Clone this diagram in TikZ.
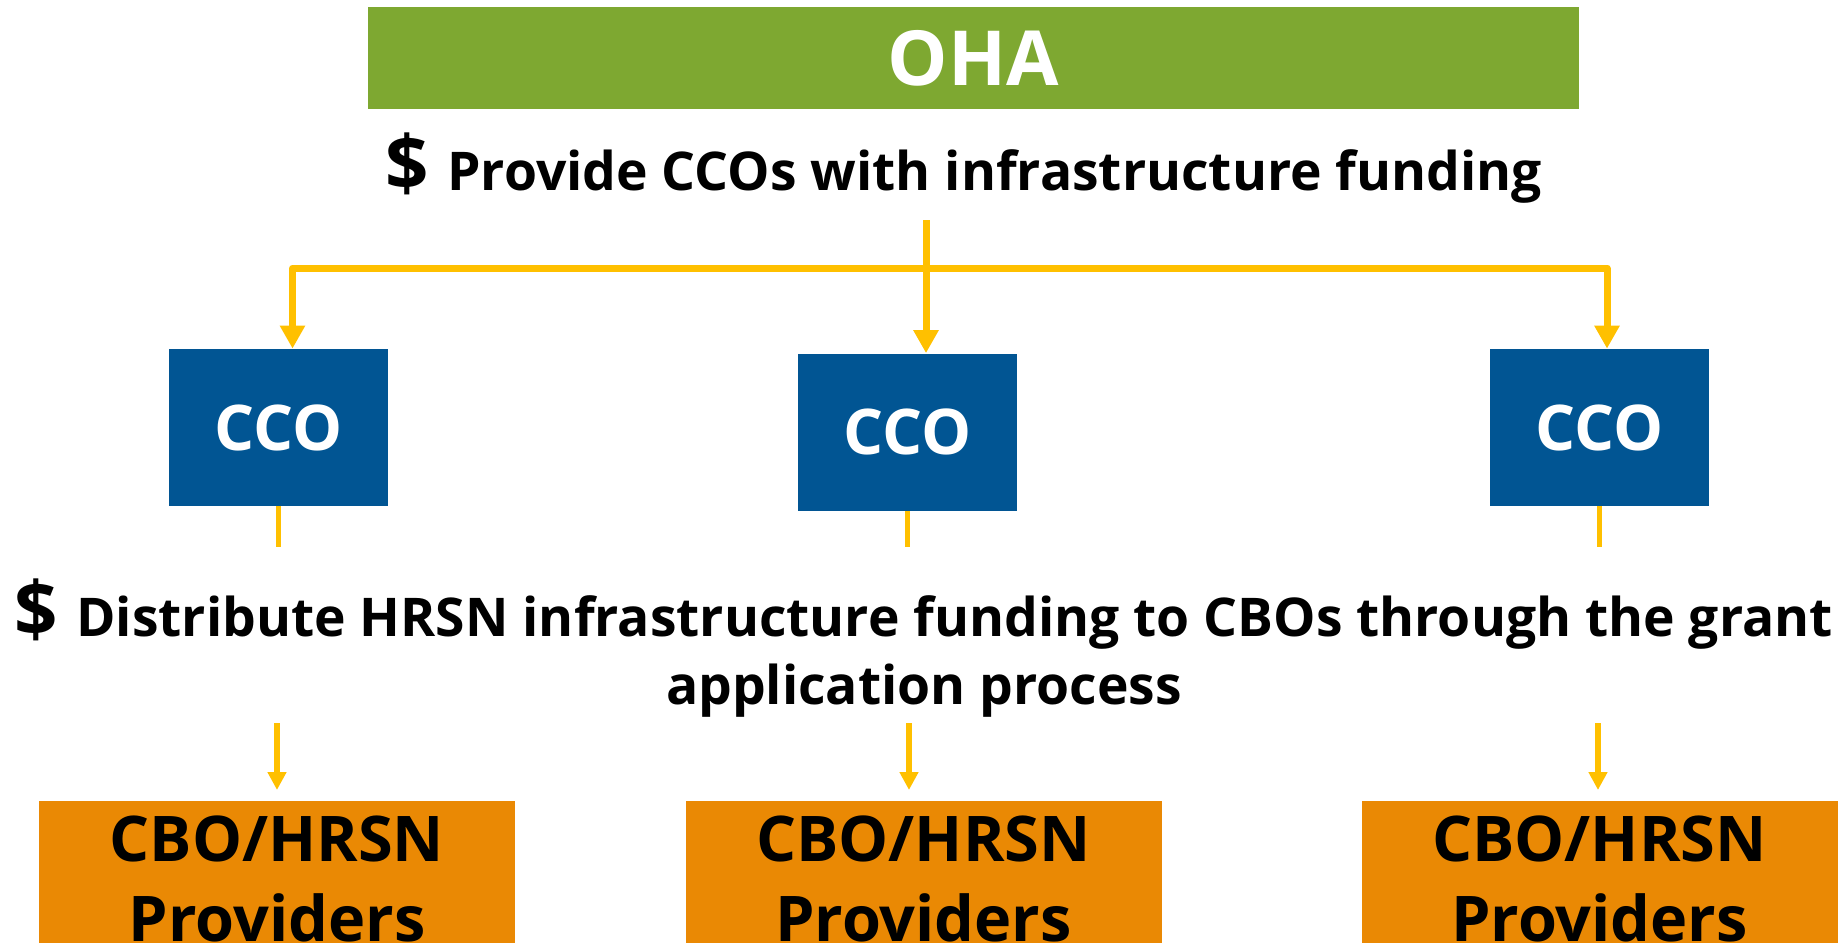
\documentclass[tikz,border=0pt]{standalone}
\usepackage{fontspec}
\setmainfont{Open Sans}
\usetikzlibrary{arrows.meta,positioning}
\definecolor{ohagreen}{RGB}{126,168,49}
\definecolor{ccoblue}{RGB}{1,85,147}
\definecolor{cboorange}{RGB}{234,137,4}
\definecolor{flowyellow}{RGB}{255,192,0}
\newcommand{\bigdollar}{{\fontsize{38}{38}\selectfont\$}\hspace{9pt}}
\begin{document}
\begin{tikzpicture}[x=.5pt,y=-.5pt, font=\bfseries, line join=round,
	ohabox/.style={fill=ohagreen, text=white, minimum width=605.5pt, minimum height=51pt, inner sep=0pt, font=\fontsize{38}{44}\selectfont\bfseries},
	ccobox/.style={fill=ccoblue, text=white, minimum width=109.5pt, minimum height=78.5pt, inner sep=0pt, font=\fontsize{31.5}{38}\selectfont\bfseries},
	cbobox/.style={fill=cboorange, text=black, minimum width=238pt, minimum height=78pt, inner sep=0pt, align=center, font=\fontsize{31.5}{40}\selectfont\bfseries},
	steptext/.style={text=black, inner sep=0pt, align=center, font=\fontsize{26.7}{34}\selectfont\bfseries},
	bigarrow/.style={draw=flowyellow, line width=3.5pt, -{Triangle[width=12pt,length=11.5pt]}},
	smallline/.style={draw=flowyellow, line width=2.75pt},
	smallarrow/.style={draw=flowyellow, line width=2.75pt, -{Triangle[width=9pt,length=9pt]}}]
	\useasboundingbox (0,0) rectangle (1844,943);
	%top
	\node[ohabox] (oha) at (973.5,58) {OHA};
	\node[steptext, anchor=base] (fund) at (964,190) {\bigdollar Provide CCOs with infrastructure funding};
	%CCOs
	\node[ccobox] (cco1) at (278.5,427.5) {CCO};
	\node[ccobox] (cco2) at (907.5,432) {CCO};
	\node[ccobox] (cco3) at (1599.5,427.5) {CCO};
	\coordinate (src) at (926,220);
	\coordinate (hub) at (926,268);
	\draw[bigarrow] (src) -- (src |- cco2.north);
	\draw[bigarrow] (hub) -| ([xshift=7pt]cco1.north);
	\draw[bigarrow] (hub) -| ([xshift=3.75pt]cco3.north);
	%middle text
	\node[steptext] (dist) at (924,648) {\bigdollar Distribute HRSN infrastructure funding to CBOs through the grant\\application process};
	%CBOs
	\node[cbobox] (cbo1) at (277,879) {CBO/HRSN\\Providers};
	\node[cbobox] (cbo2) at (923.5,879) {CBO/HRSN\\Providers};
	\node[cbobox] (cbo3) at (1599.5,879) {CBO/HRSN\\Providers};
	\fill[cboorange] (cbo1.south west) rectangle ([yshift=-10pt]cbo1.south east)
		(cbo2.south west) rectangle ([yshift=-10pt]cbo2.south east)
		(cbo3.south west) rectangle ([yshift=-10pt]cbo3.south east);
	\coordinate (d1) at (277,723);
	\coordinate (d2) at (909,723);
	\coordinate (d3) at (1598,723);
	\foreach \i in {1,2,3}{
		\draw[smallline] (cco\i.south) -- (cco\i.south |- 0,547);
		\draw[smallarrow, shorten >=8pt] (d\i) -- (d\i |- 0,806);
	}
\end{tikzpicture}
\end{document}
